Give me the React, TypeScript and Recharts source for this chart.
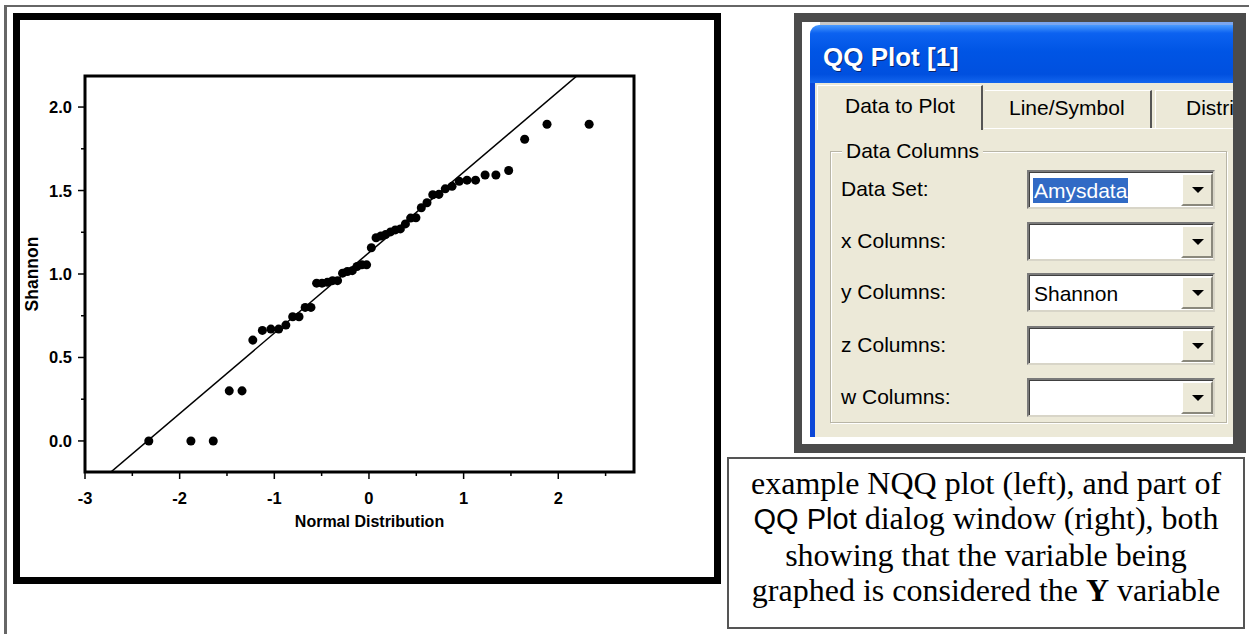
import React from "react";
import {
  ScatterChart,
  Scatter,
  XAxis,
  YAxis,
  ReferenceLine,
  ReferenceArea,
} from "recharts";

// theoretical normal quantiles for the 50 ranked observations
const normalQuantiles = [
  -2.326, -1.881, -1.645, -1.476, -1.341, -1.227, -1.126, -1.036, -0.954, -0.878,
  -0.806, -0.739, -0.674, -0.613, -0.553, -0.496, -0.44, -0.385, -0.332, -0.279,
  -0.228, -0.176, -0.126, -0.075, -0.025, 0.025, 0.075, 0.126, 0.176, 0.228,
  0.279, 0.332, 0.385, 0.44, 0.496, 0.553, 0.613, 0.674, 0.739, 0.806,
  0.878, 0.954, 1.036, 1.126, 1.227, 1.341, 1.476, 1.645, 1.881, 2.326,
];

// sorted Shannon index values
const shannonValues = [
  0, 0, 0, 0.3, 0.3, 0.604, 0.662, 0.67, 0.67, 0.694,
  0.744, 0.744, 0.8, 0.8, 0.945, 0.945, 0.95, 0.96, 0.96, 1.005,
  1.015, 1.02, 1.045, 1.055, 1.055, 1.157, 1.217, 1.228, 1.236, 1.252,
  1.264, 1.27, 1.3, 1.335, 1.337, 1.397, 1.427, 1.475, 1.477, 1.51,
  1.525, 1.555, 1.562, 1.562, 1.593, 1.593, 1.62, 1.807, 1.897, 1.897,
];

const xTicks = [-3, -2.5, -2, -1.5, -1, -0.5, 0, 0.5, 1, 1.5, 2, 2.5];
const yTicks = [0, 0.25, 0.5, 0.75, 1, 1.25, 1.5, 1.75, 2];
const xDomain = [-3, 2.8];
const yDomain = [-0.186, 2.186];

// reference line (mean + sd * z)
const fitIntercept = 1.128;
const fitSlope = 0.482;

const dialogRows = [
  { label: "Data Set:", value: "Amysdata", selected: true },
  { label: "x Columns:", value: "", selected: false },
  { label: "y Columns:", value: "Shannon", selected: false },
  { label: "z Columns:", value: "", selected: false },
  { label: "w Columns:", value: "", selected: false },
];

const points = normalQuantiles.map((q, i) => ({ x: q, y: shannonValues[i] }));

const axisFont = {
  fontFamily: "'Liberation Sans', Arial, sans-serif",
  fontWeight: 700,
  fontSize: 16.5,
  fill: "#000",
};

function XTick({ x, y, payload }: any) {
  const v = payload.value;
  const major = Math.abs(v - Math.round(v)) < 1e-6;
  return (
    <g>
      <line x1={x} x2={x} y1={y} y2={y + (major ? 7 : 4)} stroke="#000" strokeWidth={1.5} />
      {major && (
        <text x={x} y={y + 26} textAnchor="middle" dominantBaseline="central" style={axisFont}>
          {v}
        </text>
      )}
    </g>
  );
}

function YTick({ x, y, payload }: any) {
  const v = payload.value;
  const major = Math.abs(v * 2 - Math.round(v * 2)) < 1e-6;
  return (
    <g>
      <line x1={x - (major ? 7 : 4)} x2={x} y1={y} y2={y} stroke="#000" strokeWidth={1.5} />
      {major && (
        <text x={x - 13} y={y} textAnchor="end" dominantBaseline="central" style={axisFont}>
          {v.toFixed(1)}
        </text>
      )}
    </g>
  );
}

function QQChart() {
  return (
    <ScatterChart
      width={720}
      height={590}
      margin={{ top: 76, right: 86, bottom: 58, left: 0 }}
      style={{ position: "absolute", left: 0, top: 0 }}
    >
      <XAxis
        type="number"
        dataKey="x"
        domain={xDomain}
        ticks={xTicks}
        interval={0}
        allowDataOverflow
        axisLine={false}
        tickLine={false}
        tickSize={0}
        tickMargin={0}
        tick={<XTick />}
        height={60}
        label={{
          content: ({ viewBox }: any) => (
            <text
              x={viewBox.x + viewBox.width / 2 + 10}
              y={viewBox.y + 49}
              textAnchor="middle"
              dominantBaseline="central"
              style={{ ...axisFont, fontSize: 16 }}
            >
              Normal Distribution
            </text>
          ),
        }}
      />
      <YAxis
        type="number"
        dataKey="y"
        domain={yDomain}
        ticks={yTicks}
        interval={0}
        allowDataOverflow
        axisLine={false}
        tickLine={false}
        tickSize={0}
        tickMargin={0}
        tick={<YTick />}
        width={85}
        label={{
          content: ({ viewBox }: any) => {
            const cx = viewBox.x + 32;
            const cy = viewBox.y + viewBox.height / 2;
            return (
              <text
                x={cx}
                y={cy}
                transform={`rotate(-90 ${cx} ${cy})`}
                textAnchor="middle"
                dominantBaseline="central"
                style={{ ...axisFont, fontSize: 17.5 }}
              >
                Shannon
              </text>
            );
          },
        }}
      />
      <ReferenceArea
        x1={xDomain[0]}
        x2={xDomain[1]}
        y1={yDomain[0]}
        y2={yDomain[1]}
        fill="none"
        stroke="#000"
        strokeWidth={3}
        fillOpacity={0}
      />
      <ReferenceLine
        segment={[
          { x: xDomain[0], y: fitIntercept + fitSlope * xDomain[0] },
          { x: xDomain[1], y: fitIntercept + fitSlope * xDomain[1] },
        ]}
        ifOverflow="hidden"
        stroke="#000"
        strokeWidth={1.5}
      />
      <Scatter data={points} fill="#000" isAnimationActive={false} />
    </ScatterChart>
  );
}

const uiFont = "'Liberation Sans', Arial, sans-serif";

function Combo({ top, value, selected }: { top: number; value: string; selected: boolean }) {
  return (
    <div
      style={{
        position: "absolute",
        left: 1027,
        top,
        width: 188,
        height: 39,
        boxSizing: "border-box",
        background: "#fff",
        borderTop: "2px solid #7a7a7a",
        borderLeft: "2px solid #7a7a7a",
        borderBottom: "2px solid #d8d5c8",
        borderRight: "2px solid #d8d5c8",
        boxShadow: "inset 1px 1px 0 #404040",
      }}
    >
      {value && (
        <span
          style={{
            position: "absolute",
            left: 4,
            top: 6,
            height: 25,
            lineHeight: "25px",
            padding: "0 1px",
            fontFamily: uiFont,
            fontSize: 21,
            color: selected ? "#fff" : "#000",
            background: selected ? "#316ac5" : "transparent",
          }}
        >
          {value}
        </span>
      )}
      <div
        style={{
          position: "absolute",
          right: 0,
          top: 1,
          width: 32,
          height: 33,
          boxSizing: "border-box",
          background: "#ece9d8",
          borderTop: "2px solid #fff",
          borderLeft: "2px solid #fff",
          borderBottom: "2px solid #8a887c",
          borderRight: "2px solid #8a887c",
        }}
      >
        <div
          style={{
            position: "absolute",
            left: 9,
            top: 12,
            width: 0,
            height: 0,
            borderLeft: "6px solid transparent",
            borderRight: "6px solid transparent",
            borderTop: "6px solid #000",
          }}
        />
      </div>
    </div>
  );
}

function Dialog() {
  const rowTops = [170, 222, 273, 326, 378];
  return (
    <>
      <div style={{ position: "absolute", left: 794, top: 13, width: 452, height: 440, background: "#4b4b4b" }} />
      <div style={{ position: "absolute", left: 802, top: 22, width: 431, height: 422, background: "#fff", overflow: "hidden" }}>
        <div style={{ position: "absolute", left: 18, top: 0, width: 120, height: 5, background: "#c8c8c8" }} />
        <div style={{ position: "absolute", left: 138, top: 0, width: 300, height: 5, background: "#7aa6f0" }} />
        {/* title bar */}
        <div
          style={{
            position: "absolute",
            left: 8,
            top: 3,
            width: 430,
            height: 58,
            borderTopLeftRadius: 9,
            background:
              "linear-gradient(to bottom, #4a9bff 0%, #0c62f0 14%, #0055e5 45%, #0050df 85%, #1466ee 100%)",
          }}
        />
        <div
          style={{
            position: "absolute",
            left: 21,
            top: 20,
            fontFamily: uiFont,
            fontWeight: 700,
            fontSize: 26,
            color: "#fff",
            textShadow: "1px 1px 0 #0a246a",
            whiteSpace: "nowrap",
          }}
        >
          QQ Plot [1]
        </div>
        {/* window body */}
        <div style={{ position: "absolute", left: 8, top: 61, width: 5, height: 354, background: "#0b47d8" }} />
        <div style={{ position: "absolute", left: 13, top: 61, width: 430, height: 354, background: "#ece9d8" }} />
        {/* tab panel top line */}
        <div style={{ position: "absolute", left: 182, top: 106, width: 260, height: 1, background: "#fff" }} />
        {/* tabs */}
        <div
          style={{
            position: "absolute",
            left: 15,
            top: 63,
            width: 166,
            height: 45,
            boxSizing: "border-box",
            borderTop: "1px solid #fff",
            borderLeft: "1px solid #fff",
            borderRight: "2px solid #555",
            fontFamily: uiFont,
            fontSize: 21,
            color: "#000",
            lineHeight: "40px",
            paddingLeft: 27,
          }}
        >
          Data to Plot
        </div>
        <div
          style={{
            position: "absolute",
            left: 183,
            top: 68,
            width: 167,
            height: 38,
            boxSizing: "border-box",
            borderTop: "1px solid #fff",
            borderRight: "2px solid #555",
            fontFamily: uiFont,
            fontSize: 21,
            color: "#000",
            lineHeight: "34px",
            paddingLeft: 24,
          }}
        >
          Line/Symbol
        </div>
        <div
          style={{
            position: "absolute",
            left: 353,
            top: 68,
            width: 78,
            height: 38,
            boxSizing: "border-box",
            borderTop: "1px solid #fff",
            borderLeft: "1px solid #fff",
            fontFamily: uiFont,
            fontSize: 21,
            color: "#000",
            lineHeight: "34px",
            paddingLeft: 30,
            whiteSpace: "nowrap",
          }}
        >
          Distri
        </div>
        {/* group box */}
        <div
          style={{
            position: "absolute",
            left: 28,
            top: 129,
            width: 397,
            height: 272,
            boxSizing: "border-box",
            border: "1px solid #b8b5a6",
            boxShadow: "1px 1px 0 #fff, inset 1px 1px 0 #fff",
          }}
        />
        <div
          style={{
            position: "absolute",
            left: 40,
            top: 116,
            padding: "0 4px",
            background: "#ece9d8",
            fontFamily: uiFont,
            fontSize: 21,
            lineHeight: "26px",
            color: "#000",
          }}
        >
          Data Columns
        </div>
      </div>
      {dialogRows.map((r, i) => (
        <React.Fragment key={r.label}>
          <div
            style={{
              position: "absolute",
              left: 841,
              top: rowTops[i] + 6,
              lineHeight: "26px",
              fontFamily: uiFont,
              fontSize: 21,
              color: "#000",
              whiteSpace: "nowrap",
            }}
          >
            {r.label}
          </div>
          <Combo top={rowTops[i]} value={r.value} selected={r.selected} />
        </React.Fragment>
      ))}
    </>
  );
}

function Caption() {
  return (
    <div
      style={{
        position: "absolute",
        left: 727,
        top: 457,
        width: 518,
        height: 172,
        boxSizing: "border-box",
        border: "2px solid #555",
        fontFamily: "'Liberation Serif', 'Times New Roman', serif",
        fontSize: 32,
        lineHeight: "35.3px",
        textAlign: "center",
        paddingTop: 7,
        color: "#000",
        whiteSpace: "nowrap",
      }}
    >
      example NQQ plot (left), and part of
      <br />
      <span style={{ fontFamily: "'Liberation Sans', Arial, sans-serif", fontSize: 29 }}>QQ Plot</span> dialog window (right), both
      <br />
      showing that the variable being
      <br />
      graphed is considered the <b>Y</b> variable
    </div>
  );
}

export default function App() {
  return (
    <div style={{ position: "absolute", left: 0, top: 0, width: 1249, height: 634, overflow: "hidden", background: "#fff" }}>
      <div style={{ position: "absolute", left: 4, top: 5, width: 1245, height: 2, background: "#666" }} />
      <div style={{ position: "absolute", left: 4, top: 5, width: 3, height: 629, background: "#666" }} />
      <div
        style={{
          position: "absolute",
          left: 13,
          top: 13,
          width: 708,
          height: 571,
          boxSizing: "border-box",
          border: "7px solid #000",
        }}
      />
      <QQChart />
      <Dialog />
      <Caption />
    </div>
  );
}
